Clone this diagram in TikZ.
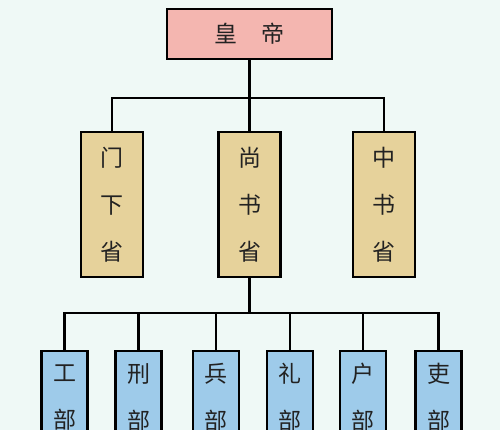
\documentclass[tikz,border=0pt]{standalone}
\usepackage{fontspec}
\newfontfamily\cjk{Noto Sans CJK SC}
\definecolor{bgc}{HTML}{EFF9F6}
\definecolor{pinkc}{HTML}{F4B6B0}
\definecolor{tanc}{HTML}{E6D29B}
\definecolor{bluec}{HTML}{9ECBEA}
\definecolor{txt}{HTML}{222222}
\tikzset{
  box/.style={draw=black, line width=2.6pt, inner sep=0pt, align=center, text=txt,
    font=\cjk\fontsize{23}{47}\selectfont},
  topbox/.style={box, fill=pinkc, minimum width=165pt, minimum height=50pt},
  midbox/.style={box, fill=tanc, minimum width=62pt, minimum height=145pt},
  lowbox/.style={box, fill=bluec, minimum width=46pt, minimum height=140pt},
  link/.style={draw=black, line width=2.4pt}
}
\begin{document}
\begin{tikzpicture}[x=1pt,y=-1pt]
\fill[bgc] (0,0) rectangle (500,430);
\useasboundingbox (0,0) rectangle (500,430);
\clip (0,0) rectangle (500,430);
\node[topbox] (emp) at (249.5,34) {皇\hspace{24pt}帝};
\node[midbox] (menxia) at (112,204.5) {门\\下\\省};
\node[midbox] (shangshu) at (249.5,204.5) {尚\\书\\省};
\node[midbox] (zhongshu) at (384,204.5) {中\\书\\省};
\node[lowbox] (gong) at (64.5,421) {工\\部\\\phantom{部}};
\node[lowbox] (xing) at (138.5,421) {刑\\部\\\phantom{部}};
\node[lowbox] (bing) at (216,421) {兵\\部\\\phantom{部}};
\node[lowbox] (li) at (290,421) {礼\\部\\\phantom{部}};
\node[lowbox] (hu) at (363,421) {户\\部\\\phantom{部}};
\node[lowbox] (libu) at (438.5,421) {吏\\部\\\phantom{部}};
\coordinate (busA) at (249.5,98);
\coordinate (busB) at (249.5,313);
\draw[link] (emp.south) -- (busA);
\draw[link] (menxia.north) |- (busA) -| (zhongshu.north);
\draw[link] (busA) -- (shangshu.north);
\draw[link] (shangshu.south) -- (busB);
\draw[link] (gong.north) |- (busB) -| (libu.north);
\draw[link] (xing.north) -- (xing.north |- busB);
\draw[link] (bing.north) -- (bing.north |- busB);
\draw[link] (li.north) -- (li.north |- busB);
\draw[link] (hu.north) -- (hu.north |- busB);
\end{tikzpicture}
\end{document}
